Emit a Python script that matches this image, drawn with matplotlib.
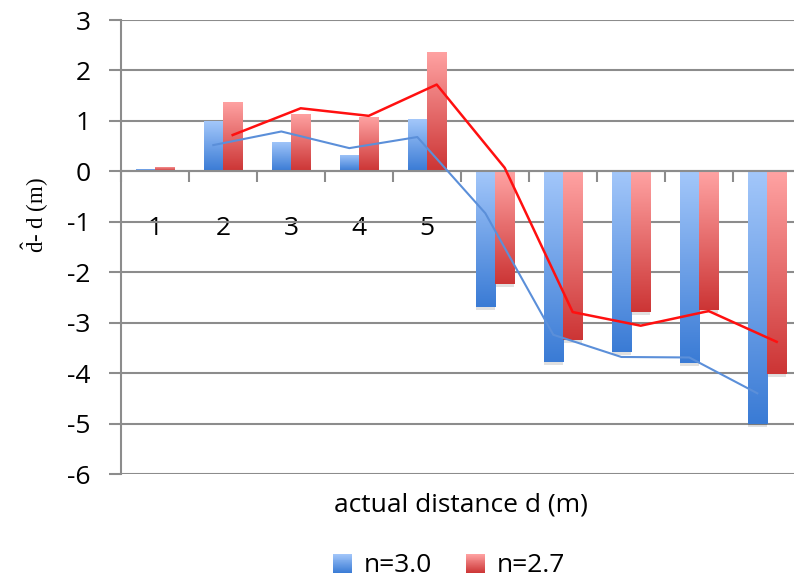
import numpy as np
import matplotlib
matplotlib.use("Agg")
import matplotlib.pyplot as plt
from matplotlib.patches import Patch, Rectangle
from matplotlib.colors import LinearSegmentedColormap
from matplotlib.legend_handler import HandlerBase

categories = ["1", "2", "3", "4", "5", "6", "7", "8", "9", "10"]
n30 = [0.05, 0.99, 0.59, 0.32, 1.03, -2.69, -3.78, -3.58, -3.79, -5.01]
n27 = [0.08, 1.37, 1.13, 1.08, 2.37, -2.23, -3.34, -2.79, -2.75, -4.02]
# 2-period moving-average trend lines (as drawn, starting at category 2)
trend30 = [0.52, 0.79, 0.46, 0.68, -0.83, -3.24, -3.68, -3.69, -4.40]
trend27 = [0.72, 1.25, 1.10, 1.72, 0.07, -2.79, -3.06, -2.77, -3.38]
series_labels = ["n=3.0", "n=2.7"]

plt.rcParams['font.family'] = ['Open Sans', 'DejaVu Sans']
plt.rcParams['axes.unicode_minus'] = False
plt.rcParams['mathtext.fontset'] = 'custom'
plt.rcParams['mathtext.rm'] = 'Liberation Serif'

fig = plt.figure(figsize=(7.94, 5.85), dpi=100)
ax = fig.add_axes([121/794, 1-474/585, 680/794, 454/585])

x = np.arange(len(categories))
bw = 0.285
blue_cmap = LinearSegmentedColormap.from_list("b", ["#a3c7fa", "#3a7bd5"])
red_cmap = LinearSegmentedColormap.from_list("r", ["#ffa3a3", "#cc3535"])

grad = np.linspace(0, 1, 256).reshape(-1, 1)

def gradient_bars(xpos, vals, cmap):
    bars = ax.bar(xpos, vals, bw, color='none', edgecolor='none', zorder=2)
    for b, v in zip(bars, vals):
        x0 = b.get_x(); x1 = x0 + b.get_width()
        top = max(v, 0); bot = min(v, 0)
        im = ax.imshow(grad, cmap=cmap, aspect='auto', extent=[x0, x1, bot, top],
                       origin='upper', zorder=2, interpolation='bilinear')
        im.set_clip_path(b)
        if v < 0:
            ax.fill_between([x0, x1], bot, bot - 0.06, color='#000000', alpha=0.12, lw=0, zorder=1.5)
    return bars

gradient_bars(x - bw/2, n30, blue_cmap)
gradient_bars(x + bw/2, n27, red_cmap)

ax.plot(x[1:] - bw/2, trend30, color='#5b8fd9', lw=1.5, zorder=3)
ax.plot(x[1:] + bw/2, trend27, color='#ff1010', lw=1.8, zorder=3)

ax.set_xlim(-0.5, len(categories) - 0.5)
ax.set_ylim(-6, 3)
ax.set_yticks(np.arange(-6, 4, 1))
ax.yaxis.grid(True, color='#8c8c8c', lw=1.5, zorder=0)
ax.set_axisbelow(True)

for s in ['top', 'right']:
    ax.spines[s].set_visible(False)
ax.spines['left'].set_color('#8c8c8c')
ax.spines['left'].set_linewidth(1.5)
ax.spines['bottom'].set_position(('data', 0))
ax.spines['bottom'].set_color('#8c8c8c')
ax.spines['bottom'].set_linewidth(1.5)

ax.set_xticks(x)
ax.set_xticklabels(categories)
ax.set_xticks(np.arange(-0.5, len(categories) - 0.4, 1), minor=True)
ax.tick_params(axis='x', which='major', length=0, pad=32, labelsize=19)
ax.tick_params(axis='x', which='minor', length=8, width=1.5, color='#8c8c8c', direction='out')
ax.tick_params(axis='y', length=9, width=1.5, color='#8c8c8c', pad=13, labelsize=19)

ax.set_ylabel(r'$\hat{\mathrm{d}}$- d (m)', fontsize=16.5, family='Liberation Serif')
ax.yaxis.set_label_coords(-0.103, 0.57)

fig.text(461/794, 1-505/585, 'actual distance d (m)', ha='center', va='center', fontsize=19)


class GradHandler(HandlerBase):
    def __init__(self, cmap):
        super().__init__()
        self.cmap = cmap

    def create_artists(self, legend, orig_handle, xdescent, ydescent, width, height, fontsize, trans):
        arts = []
        n = 20
        side = width
        y0 = -ydescent + (height - side) / 2
        for i in range(n):
            c = self.cmap(1 - (i + 0.5) / n)
            r = Rectangle((-xdescent, y0 + side * i / n), side, side / n + 0.1,
                          facecolor=c, edgecolor='none', transform=trans)
            arts.append(r)
        return arts

h1 = Patch(facecolor='#6f9fe8')
h2 = Patch(facecolor='#e86a6a')
fig.legend([h1, h2], series_labels, loc='center', bbox_to_anchor=(449/794, 1-566/585), ncol=2,
           frameon=False, fontsize=19, handlelength=0.7, handleheight=0.7, handletextpad=0.45,
           columnspacing=1.3, borderpad=0.1,
           handler_map={h1: GradHandler(blue_cmap), h2: GradHandler(red_cmap)})

fig.savefig('out.png', dpi=100)
